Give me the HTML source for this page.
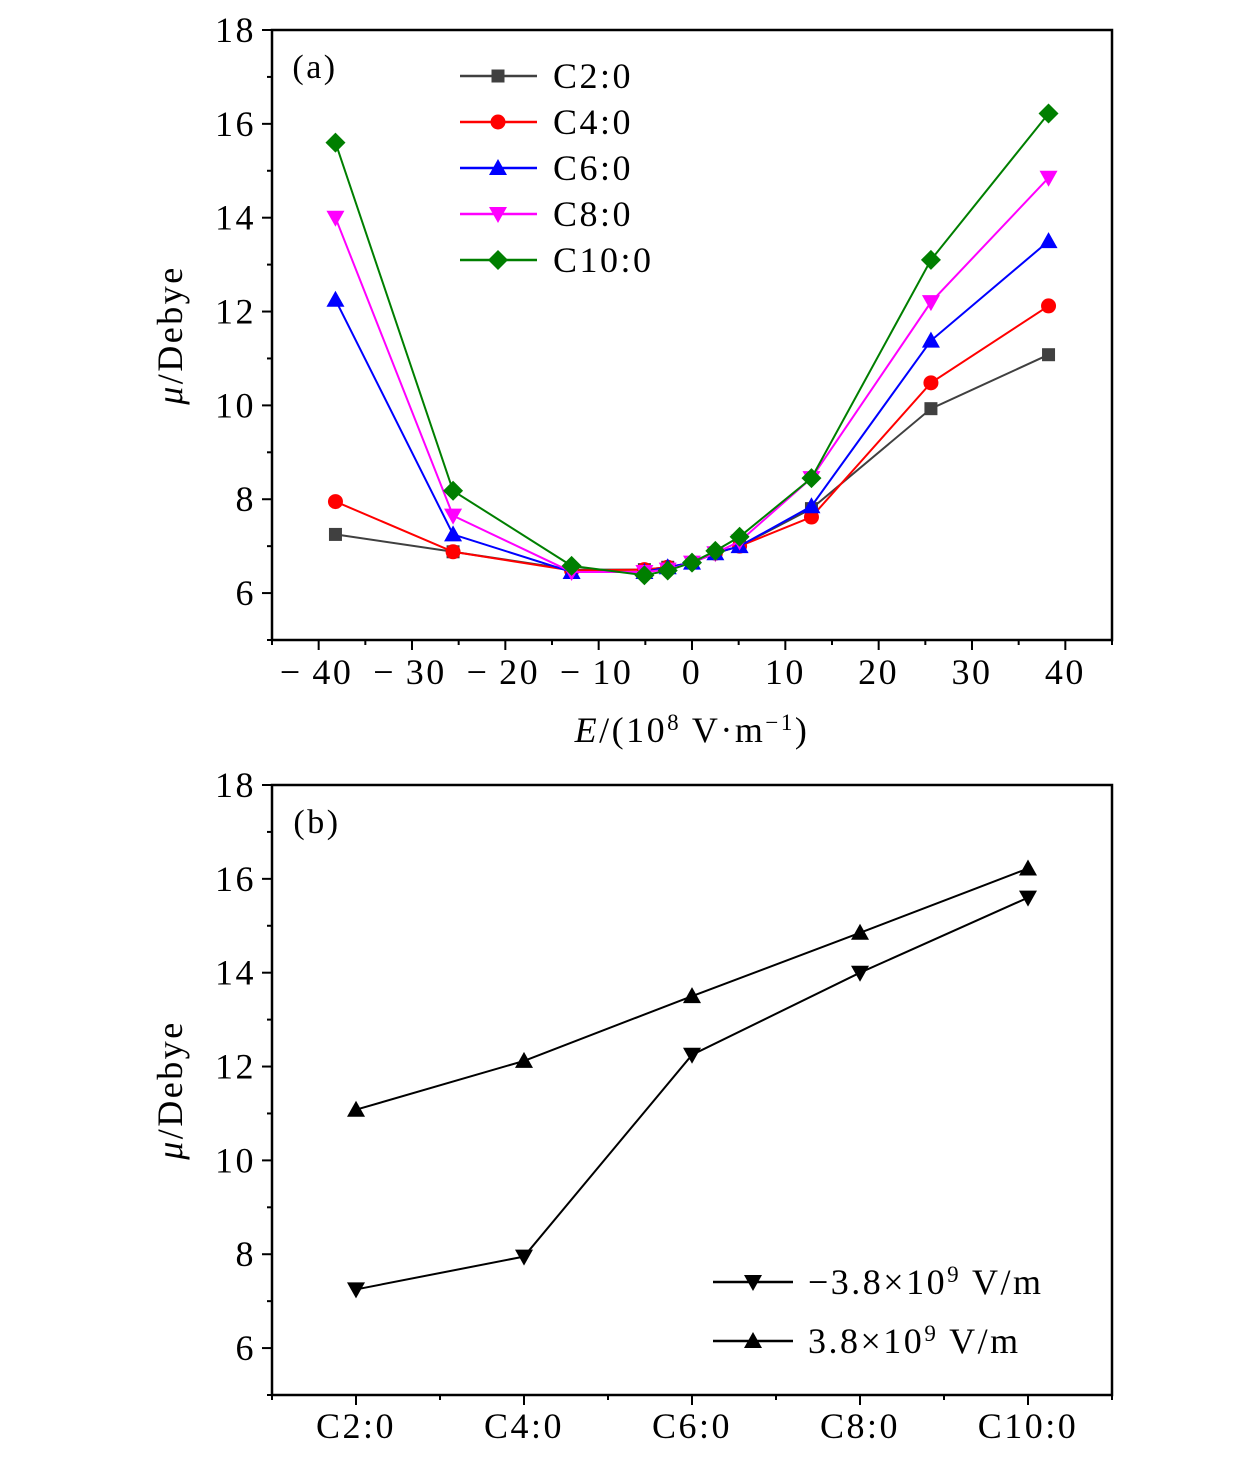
<!DOCTYPE html>
<html><head><meta charset="utf-8"><style>
body{margin:0;background:#fff;}
svg text{font-family:"Liberation Serif",serif;letter-spacing:2.5px;}
</style></head><body>
<svg id="chart" width="1260" height="1457" xmlns="http://www.w3.org/2000/svg"></svg>
<script>
const fieldValues=[-38.2,-25.6,-12.9,-5.1,-2.6,0,2.5,5.1,12.8,25.6,38.2];
const seriesNames=["C2:0","C4:0","C6:0","C8:0","C10:0"];
const c2=[7.25,6.88,6.5,6.5,6.55,6.65,6.85,7.0,7.8,9.93,11.08];
const c4=[7.95,6.88,6.48,6.5,6.55,6.65,6.85,7.0,7.62,10.48,12.12];
const c6=[12.25,7.25,6.45,6.45,6.55,6.65,6.85,7.0,7.85,11.38,13.5];
const c8=[14.0,7.65,6.45,6.45,6.5,6.65,6.85,7.1,8.45,12.2,14.85];
const c10=[15.6,8.18,6.58,6.38,6.48,6.65,6.9,7.2,8.45,13.1,16.22];
const xTicksA=[-40,-30,-20,-10,0,10,20,30,40];
const yTicks=[6,8,10,12,14,16,18];
const categoriesB=["C2:0","C4:0","C6:0","C8:0","C10:0"];
const negField=[7.25,7.95,12.25,14.0,15.6];
const posField=[11.08,12.12,13.5,14.85,16.22];

const svg=document.getElementById('chart');
const NS="http://www.w3.org/2000/svg";
function el(tag,attrs,parent){const e=document.createElementNS(NS,tag);for(const k in attrs)e.setAttribute(k,attrs[k]);(parent||svg).appendChild(e);return e;}
function txt(s,x,y,size,anchor,parent){const t=el('text',{x:x,y:y,'font-size':size,'text-anchor':anchor||'middle'},parent);t.textContent=s;return t;}

function marker(type,x,y,color,parent){
  let m;
  if(type==='square')m=el('rect',{x:x-6.5,y:y-6.5,width:13,height:13,fill:color},parent);
  else if(type==='circle')m=el('circle',{cx:x,cy:y,r:7.5,fill:color},parent);
  else if(type==='up')m=el('polygon',{points:`${x},${y-9} ${x-9},${y+7} ${x+9},${y+7}`,fill:color},parent);
  else if(type==='down')m=el('polygon',{points:`${x},${y+9} ${x-9},${y-7} ${x+9},${y-7}`,fill:color},parent);
  else m=el('polygon',{points:`${x},${y-10} ${x+10},${y} ${x},${y+10} ${x-10},${y}`,fill:color},parent);
  return m;
}

// ---------- Panel A ----------
const A={l:272,r:1112,t:30,b:640};
const xA=v=>A.l+(v+45)/90*(A.r-A.l);
const yA=v=>A.b-(v-5)/13*(A.b-A.t);
const gA=el('g',{});


el('rect',{x:A.l,y:A.t,width:A.r-A.l,height:A.b-A.t,fill:'none',stroke:'#000','stroke-width':2.5},gA);
for(let v=-45;v<=45;v+=5){const major=v%10===0;el('line',{x1:xA(v),x2:xA(v),y1:A.b,y2:A.b+(major?10:5),stroke:'#000','stroke-width':2},gA);}
xTicksA.forEach(v=>{const t=txt(v<0?'\u2212\u2009'+(-v):String(v),xA(v)+(v<0?-2:0),684,36,'middle',gA);});
for(let v=5;v<=18;v++){const major=v%2===0;el('line',{x1:A.l,x2:A.l-(major?10:5),y1:yA(v),y2:yA(v),stroke:'#000','stroke-width':2},gA);}
yTicks.forEach(v=>{const t=txt(String(v),256,yA(v)+12,36,'end',gA);});
const xtA=txt('',692,742,36,'middle',gA);
xtA.innerHTML='<tspan font-style="italic">E</tspan>/(10<tspan dy="-12" font-size="23">8</tspan><tspan dy="12"> V·m</tspan><tspan dy="-12" font-size="23">\u22121</tspan><tspan dy="12">)</tspan>';


const ytA=txt('',0,0,36,'middle',gA);
ytA.setAttribute('transform','translate(182,335) rotate(-90)');
ytA.innerHTML='<tspan font-style="italic">μ</tspan>/Debye';


const la=txt('(a)',315,78,34,'middle',gA);



const seriesA=[c2,c4,c6,c8,c10];
const colors=['#404040','#ff0000','#0000ff','#ff00ff','#007f00'];
const types=['square','circle','up','down','diamond'];
seriesA.forEach((d,i)=>{
  const g=el('g',{},gA);
  
  
  el('polyline',{points:d.map((v,j)=>xA(fieldValues[j])+','+yA(v)).join(' '),fill:'none',stroke:colors[i],'stroke-width':2},g);
  d.forEach((v,j)=>{const m=marker(types[i],xA(fieldValues[j]),yA(v),colors[i],g);});
  const ly=76+i*46;
  const lg=el('g',{},gA);
  
  
  el('line',{x1:460,x2:537,y1:ly,y2:ly,stroke:colors[i],'stroke-width':2.5},lg);
  marker(types[i],498,ly,colors[i],lg);
  txt(seriesNames[i],553,ly+12,36,'start',lg);
});

// ---------- Panel B ----------
const B={l:272,r:1112,t:785,b:1395};
const xB=i=>B.l+(i+0.5)/5*(B.r-B.l);
const yB=v=>B.b-(v-5)/13*(B.b-B.t);
const gB=el('g',{});


el('rect',{x:B.l,y:B.t,width:B.r-B.l,height:B.b-B.t,fill:'none',stroke:'#000','stroke-width':2.5},gB);
for(let k=0;k<=10;k++){const p=k/2;const major=k%2===1;el('line',{x1:B.l+p/5*(B.r-B.l),x2:B.l+p/5*(B.r-B.l),y1:B.b,y2:B.b+(major?10:5),stroke:'#000','stroke-width':2},gB);}
categoriesB.forEach((c,i)=>{const t=txt(c,xB(i),1438,36,'middle',gB);});
for(let v=5;v<=18;v++){const major=v%2===0;el('line',{x1:B.l,x2:B.l-(major?10:5),y1:yB(v),y2:yB(v),stroke:'#000','stroke-width':2},gB);}
yTicks.forEach(v=>{const t=txt(String(v),256,yB(v)+12,36,'end',gB);});
const ytB=txt('',0,0,36,'middle',gB);
ytB.setAttribute('transform','translate(182,1090) rotate(-90)');
ytB.innerHTML='<tspan font-style="italic">μ</tspan>/Debye';


const lb=txt('(b)',317,833,34,'middle',gB);


[[negField,'down'],[posField,'up']].forEach(([d,t],k)=>{
  const g=el('g',{},gB);
  
  
  el('polyline',{points:d.map((v,j)=>xB(j)+','+yB(v)).join(' '),fill:'none',stroke:'#000','stroke-width':2},g);
  d.forEach((v,j)=>{const m=marker(t,xB(j),yB(v),'#000',g);});
  const ly=k===0?1282:1341;
  const lg=el('g',{},gB);
  
  
  el('line',{x1:713,x2:793,y1:ly,y2:ly,stroke:'#000','stroke-width':2.5},lg);
  marker(t,753,ly,'#000',lg);
  const tt=txt('',808,ly+12,36,'start',lg);
  tt.innerHTML=(k===0?'\u22123.8×10':'3.8×10')+'<tspan dy="-12" font-size="23">9</tspan><tspan dy="12"> V/m</tspan>';
});
</script>
</body></html>
